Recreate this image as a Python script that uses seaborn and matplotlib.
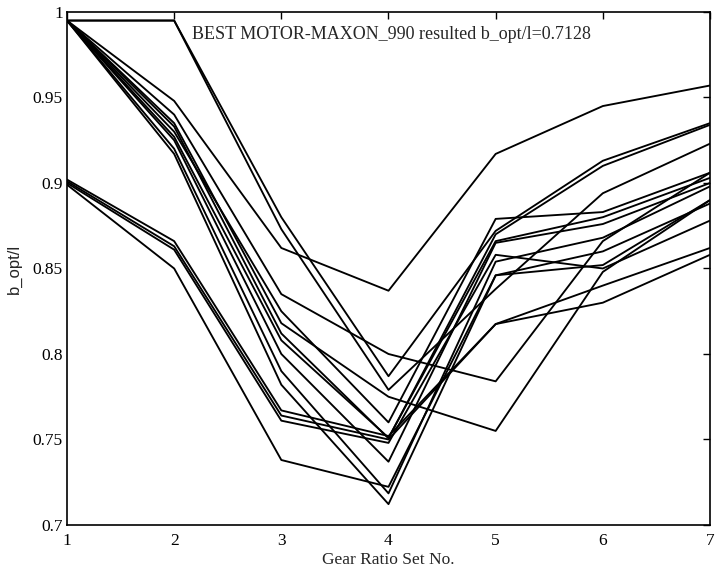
import numpy as np
import pandas as pd
import matplotlib
matplotlib.use("Agg")
import matplotlib.pyplot as plt
import seaborn as sns

gear_sets = [1, 2, 3, 4, 5, 6, 7]

A1 = [0.995, 0.948, 0.862, 0.837, 0.917, 0.945, 0.957]
A2 = [0.995, 0.995, 0.880, 0.787, 0.872, 0.913, 0.935]
A3 = [0.995, 0.995, 0.873, 0.779, 0.838, 0.894, 0.923]
A4 = [0.995, 0.940, 0.835, 0.800, 0.784, 0.866, 0.906]
A5 = [0.995, 0.935, 0.818, 0.775, 0.755, 0.848, 0.890]
A6 = [0.995, 0.930, 0.825, 0.760, 0.879, 0.883, 0.906]
A7 = [0.995, 0.927, 0.808, 0.751, 0.866, 0.880, 0.903]
A8 = [0.995, 0.925, 0.800, 0.737, 0.865, 0.876, 0.900]
A9 = [0.995, 0.920, 0.790, 0.7185, 0.854, 0.868, 0.898]
A10 = [0.995, 0.917, 0.782, 0.7122, 0.846, 0.860, 0.888]
A11 = [0.995, 0.933, 0.812, 0.7507, 0.870, 0.910, 0.934]
B1 = [0.902, 0.866, 0.767, 0.752, 0.8175, 0.840, 0.862]
B2 = [0.901, 0.863, 0.764, 0.750, 0.8175, 0.830, 0.858]
B3 = [0.900, 0.861, 0.761, 0.748, 0.858, 0.850, 0.878]
B4 = [0.899, 0.850, 0.738, 0.7223, 0.846, 0.852, 0.890]

series = {"A1": A1, "A2": A2, "A3": A3, "A4": A4, "A5": A5, "A6": A6,
          "A7": A7, "A8": A8, "A9": A9, "A10": A10, "A11": A11,
          "B1": B1, "B2": B2, "B3": B3, "B4": B4}

xtick_vals = [1, 2, 3, 4, 5, 6, 7]
ytick_vals = [0.7, 0.75, 0.8, 0.85, 0.9, 0.95, 1.0]
ytick_labels = ["0.7", "0.75", "0.8", "0.85", "0.9", "0.95", "1"]

rows = []
for name, vals in series.items():
    for g, v in zip(gear_sets, vals):
        rows.append({"motor": name, "gear": g, "b": v})
df = pd.DataFrame(rows)

sns.set_style("white")
plt.rcParams["font.family"] = ["Liberation Serif", "DejaVu Serif"]

fig = plt.figure(figsize=(7.15, 5.74), dpi=100)
ax = fig.add_axes([0.0937, 0.0854, 0.8993, 0.8937])

sns.lineplot(data=df, x="gear", y="b", units="motor", estimator=None,
             color="black", lw=1.35, ax=ax, legend=False)

ax.set_xlim(1, 7)
ax.set_ylim(0.7, 1.0)
ax.set_xticks(xtick_vals)
ax.set_xticklabels([str(v) for v in xtick_vals])
ax.set_yticks(ytick_vals)
ax.set_yticklabels(ytick_labels)
ax.tick_params(direction="in", length=5, width=1, labelsize=12.5,
               top=True, right=True, colors="black")
ax.tick_params(axis="x", pad=6)
ax.tick_params(axis="y", pad=3)
for s in ax.spines.values():
    s.set_visible(True)
    s.set_color("black")
    s.set_linewidth(1.2)

ax.set_xlabel("Gear Ratio Set No.", fontsize=12.5, labelpad=2)
ax.set_ylabel("b_opt/l", fontsize=12, family=["Liberation Sans", "DejaVu Sans"], labelpad=8)

ax.text(2.17, 0.9866, "BEST MOTOR-MAXON_990 resulted b_opt/l=0.7128",
        fontsize=13, va="center", ha="left")

fig.savefig("out.png", dpi=100)
